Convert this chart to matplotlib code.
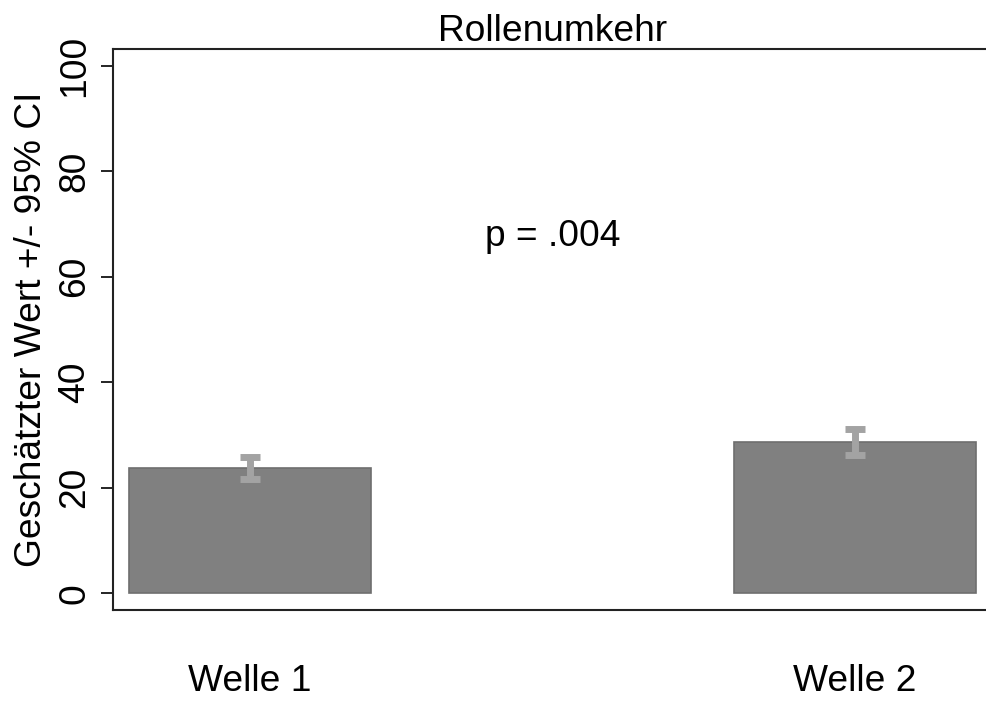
import matplotlib
matplotlib.use("Agg")
import matplotlib.pyplot as plt

# data
groups = ["Welle 1", "Welle 2"]
means = [23.7, 28.7]
ci_low = [21.6, 26.2]
ci_high = [25.8, 31.1]
y_ticks = [0, 20, 40, 60, 80, 100]
p_label = "p = .004"
title = "Rollenumkehr"
y_label = "Geschätzter Wert +/- 95% CI"

plt.rcParams["font.family"] = ["Liberation Sans", "DejaVu Sans"]
fs = 26.7

fig = plt.figure(figsize=(9.86, 7.01), dpi=100)
# axes runs slightly past the right edge of the picture (right frame is cut off)
ax = fig.add_axes([113 / 986, 1 - 610 / 701, (992 - 113) / 986, (610 - 49) / 701])

x = list(range(len(groups)))
ax.bar(x, means, width=0.4, color="#808080", edgecolor="#6e6e6e", linewidth=1.2, zorder=2)

err_lo = [m - lo for m, lo in zip(means, ci_low)]
err_hi = [hi - m for m, hi in zip(means, ci_high)]
ax.errorbar(x, means, yerr=[err_lo, err_hi], fmt="none", ecolor="#a3a3a3",
            elinewidth=5, capsize=7, capthick=5, zorder=3)

ax.text(0.5, 67.6, p_label, ha="center", va="center", fontsize=fs)

ax.set_xlim(-0.226, 1.226)
ax.set_ylim(-3.2, 103.2)
ax.set_yticks(y_ticks)
ax.set_yticklabels([str(t) for t in y_ticks], rotation=90, va="center", fontsize=fs)
ax.tick_params(axis="y", length=9, width=1.2, pad=6)
ax.set_xticks(x)
ax.set_xticklabels(groups, fontsize=fs)
ax.tick_params(axis="x", length=0, pad=39)

ax.set_ylabel(y_label, fontsize=fs, labelpad=6)
ax.set_title(title, fontsize=fs, pad=5)

for s in ax.spines.values():
    s.set_linewidth(1.5)
    s.set_color("#222222")

fig.savefig("out.png", dpi=100)
